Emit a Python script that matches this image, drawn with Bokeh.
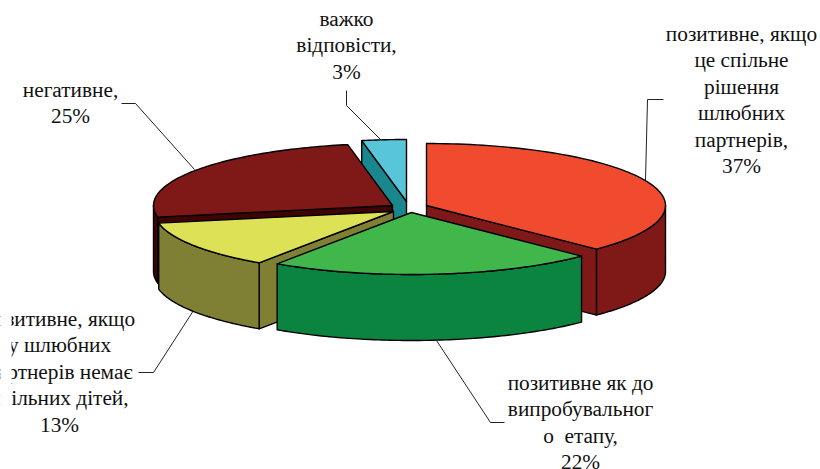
import numpy as np
from bokeh.plotting import figure
from bokeh.models import Range1d
from bokeh.core.properties import value
from bokeh.embed import file_html
from bokeh.resources import INLINE

# slice shares (order: clockwise from 12 o'clock)
categories = ["позитивне, якщо це спільне рішення шлюбних партнерів",
              "позитивне як до випробувального етапу",
              "позитивне, якщо у шлюбних партнерів немає спільних дітей",
              "негативне",
              "важко відповісти"]
shares = [37.4, 22.1, 12.5, 25.0, 3.0]
percent_labels = ["37%", "22%", "13%", "25%", "3%"]

top_colors = ["#F14B2F", "#41B64B", "#DCE155", "#7F1917", "#58C6D8"]
wall_colors = ["#7F1917", "#0B8440", "#808035", "#3F0303", "#1A868E"]
centers_x = [426, 411, 393, 392, 406]
centers_y = [205, 212, 211, 205, 201]
RX, RY, DEPTH = 239, 62, 66

label_lines = [
    ["позитивне, якщо", "це спільне", "рішення", "шлюбних", "партнерів,", "37%"],
    ["позитивне як до", "випробувальног", "о\u00a0 етапу,", "22%"],
    ["позитивне, якщо", "у шлюбних", "партнерів немає", "спільних дітей,", "13%"],
    ["негативне,", "25%"],
    ["важко", "відповісти,", "3%"],
]
label_x = [741, 580, 59, 70, 346]
label_y0 = [33.5, 382.5, 318.5, 89.5, 18.5]
LINE_H = 26.4
leader_x = [[663, 647, 645], [504, 490, 436], [138, 153, 193], [121, 135, 194], [346, 346, 381]]
leader_y = [[99, 99, 180], [422, 422, 340], [372, 372, 310], [103, 103, 169], [90, 105, 140]]

p = figure(width=820, height=469, output_backend="svg", toolbar_location=None,
           x_range=Range1d(0, 820), y_range=Range1d(469, 0),
           min_border=0, outline_line_color=None, background_fill_color="white",
           border_fill_color="white")
p.axis.visible = False
p.grid.visible = False

cum = np.cumsum([0] + shares) / sum(shares) * 2 * np.pi


def rim(i, t):
    return centers_x[i] + RX * np.sin(t), centers_y[i] - RY * np.cos(t)


def draw_top(i):
    t = np.linspace(cum[i], cum[i + 1], 90)
    x, y = rim(i, t)
    p.patch(np.r_[centers_x[i], x], np.r_[centers_y[i], y], fill_color=top_colors[i],
            line_color="black", line_width=1.4, line_join="round")


def draw_cut(i, t0):
    x, y = rim(i, t0)
    cx, cy = centers_x[i], centers_y[i]
    p.patch([cx, x, x, cx], [cy, y, y + DEPTH, cy + DEPTH], fill_color=wall_colors[i],
            line_color="black", line_width=1.4, line_join="round")


def draw_outer(i, t0, t1):
    t = np.linspace(t0, t1, 80)
    x, y = rim(i, t)
    p.patch(np.r_[x, x[::-1]], np.r_[y, y[::-1] + DEPTH], fill_color=wall_colors[i],
            line_color="black", line_width=1.4, line_join="round")


# leader lines go under the pie
for lx, ly in zip(leader_x, leader_y):
    p.line(lx, ly, line_color="#222222", line_width=1)

# painter's order: back to front
draw_cut(4, cum[4]); draw_top(4)                                   # teal
draw_cut(3, cum[3]); draw_outer(3, cum[3], 1.5 * np.pi); draw_top(3)  # dark red
draw_cut(2, cum[2]); draw_outer(2, cum[2], cum[3]); draw_top(2)    # yellow
draw_cut(0, cum[1]); draw_outer(0, 0.5 * np.pi, cum[1]); draw_top(0)  # red
draw_outer(1, cum[1], cum[2]); draw_top(1)                         # green

for lines, lx, y0 in zip(label_lines, label_x, label_y0):
    ys = [y0 + k * LINE_H for k in range(len(lines))]
    p.text([lx] * len(lines), ys, text=lines, text_align="center", text_baseline="middle",
           text_font=value("Liberation Serif"), text_font_size="21.3px", text_color="#111111")

# the reference's label box cuts off the left edge of this label
p.quad(left=[0], right=[11], bottom=[300], top=[440], fill_color="white", line_color=None)

html = file_html(p, INLINE)
html = html.replace("</head>", "<style>html,body{margin:0;padding:0;overflow:hidden}</style></head>", 1)
open("out.html", "w").write(html)
